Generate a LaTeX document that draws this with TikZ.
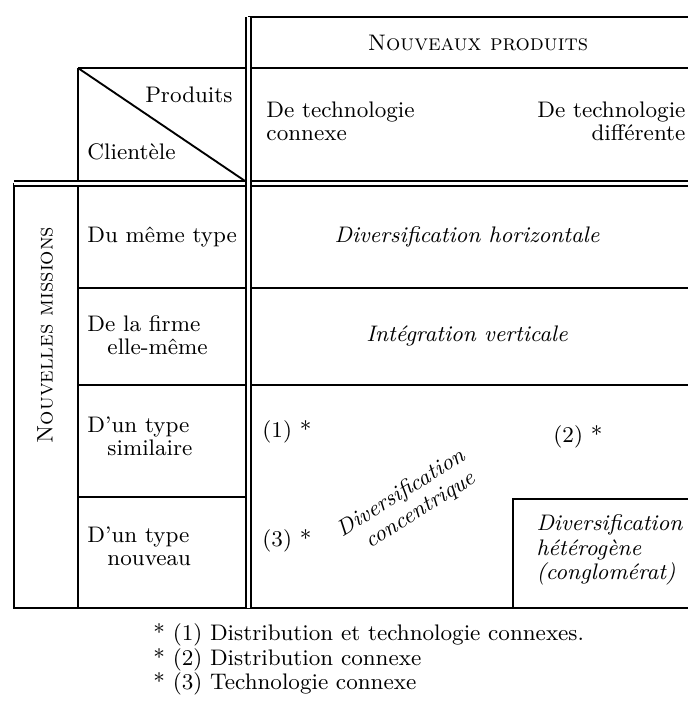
\documentclass[tikz,border=0pt]{standalone}
\usetikzlibrary{positioning}
\begin{document}
\begin{tikzpicture}[x=0.4pt,y=-0.4pt,
    rule/.style={line width=0.75pt},
    dblrule/.style={double,double distance=1.3pt,line width=0.6pt},
    txt/.style={font=\fontsize{9}{9.3}\selectfont,inner sep=0pt},
    itx/.style={txt,font=\fontsize{9}{9.8}\selectfont\itshape}]
\useasboundingbox (0,0) rectangle (688,709);

% Grid
\draw[rule] (248,17) -- (688,17);
\draw[rule] (78,68) -- (688,68);
\draw[rule] (78,68) -- (78,608);
\draw[rule] (14,183) -- (14,608) -- (688,608);
\draw[rule] (78,68) -- (248,183);
\draw[rule] (78,288) -- (688,288);
\draw[rule] (78,385) -- (688,385);
\draw[rule] (78,497) -- (248,497);
\draw[rule] (513,608) -- (513,499) -- (688,499);
\draw[dblrule] (14,183.5) -- (688,183.5);
\draw[dblrule] (248.5,17) -- (248.5,608);

% Headers
\node[txt] (nouv) at (478,43) {\textsc{Nouveaux produits}};
\node[txt,anchor=east] (prod) at (233,95) {Produits};
\node[txt,anchor=west] (client) at (87,152) {Clientèle};
\node[txt,anchor=west,align=left] (conn) at (266,121) {De technologie\\connexe};
\node[txt,anchor=east,align=right] (diff) at (686,121) {De technologie\\différente};
\node[txt,rotate=90] (miss) at (45,335) {\textsc{Nouvelles missions}};

% Row labels
\node[txt,anchor=west] (meme) at (87,237) {Du même type};
\node[txt,anchor=west,align=left] (firme) at (87,335) {De la firme\\\hspace*{8pt}elle-même};
\node[txt,anchor=west,align=left] (simil) at (87,436) {D'un type\\\hspace*{8pt}similaire};
\node[txt,anchor=west,align=left] (nouveau) at (87,546) {D'un type\\\hspace*{8pt}nouveau};

% Cells
\node[itx] (horiz) at (467,237) {Diversification horizontale};
\node[itx] (integ) at (467,336) {Intégration verticale};
\node[txt,anchor=west] (n1) at (262,432) {(1) *};
\node[txt,anchor=west] (n2) at (553,437) {(2) *};
\node[txt,anchor=west] (n3) at (262,541) {(3) *};
\node[itx,rotate=32,align=left] (conc) at (408,504) {Diversification\\\hspace*{7pt}concentrique};
\node[itx,anchor=west,align=left] (congl) at (536,550) {Diversification\\hétérogène\\(conglomérat)};

% Notes
\node[txt,anchor=west] (f1) at (153,635) {* (1) Distribution et technologie connexes.};
\node[txt,anchor=west] (f2) at (153,660) {* (2) Distribution connexe};
\node[txt,anchor=west] (f3) at (153,684) {* (3) Technologie connexe};
\end{tikzpicture}
\end{document}
